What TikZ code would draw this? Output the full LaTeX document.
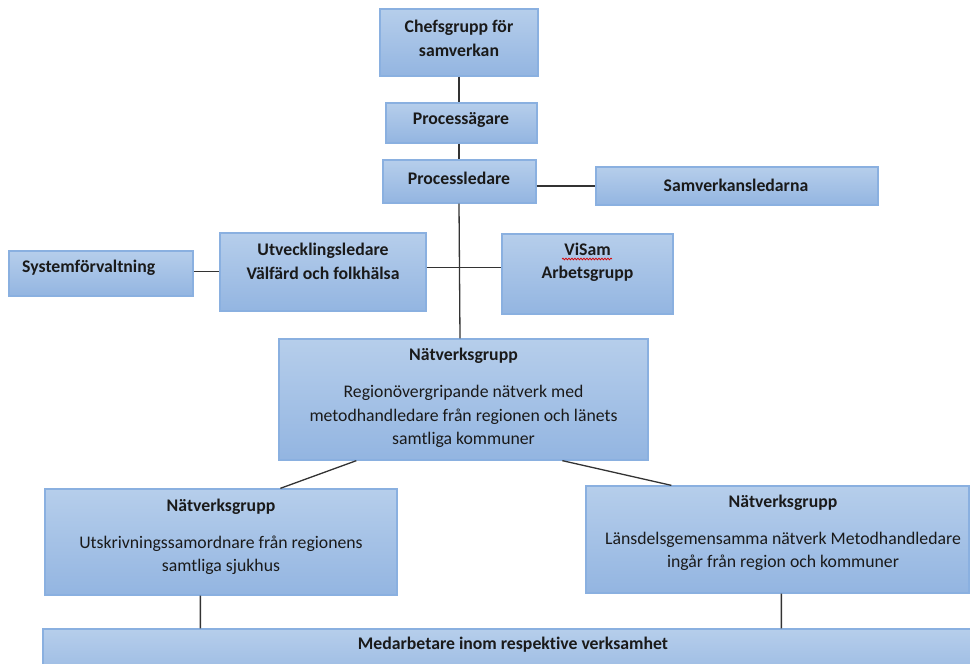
\documentclass[tikz,border=0pt]{standalone}
\usepackage{fontspec}
\setmainfont{Carlito}[Ligatures=NoCommon]
\usetikzlibrary{fit,decorations.pathmorphing}
\definecolor{boxtop}{HTML}{B6CEEB}
\definecolor{boxbot}{HTML}{93B5E1}
\definecolor{boxline}{HTML}{8AB0E0}
\definecolor{connc}{HTML}{333333}
\definecolor{txtc}{HTML}{1A1A1A}
\tikzset{
  box/.style={draw=boxline, line width=1.3bp, top color=boxtop, bottom color=boxbot, rectangle, inner sep=0pt},
  txt/.style={font=\fontsize{17.8}{23.5}\selectfont, align=center, inner sep=0pt, text=txtc},
  conn/.style={draw=connc, line width=1.3bp}
}
\begin{document}
\begin{tikzpicture}[x=1bp,y=-1bp]
\useasboundingbox (0,0) rectangle (970,664);
% boxes
\node[box, fit={(380,9) (538,76)}] (chef) {};
\node[box, fit={(386,103) (537,143)}] (pagare) {};
\node[box, fit={(383,160) (536,203)}] (pledare) {};
\node[box, fit={(596,167) (878,205)}] (samv) {};
\node[box, fit={(9,251) (193,296)}] (sys) {};
\node[box, fit={(220,233) (426,311)}] (utv) {};
\node[box, fit={(502,234) (673,314)}] (visam) {};
\node[box, fit={(279,339) (648,460)}] (natc) {};
\node[box, fit={(45,489) (397,595)}] (natl) {};
\node[box, fit={(586,486) (969,593)}] (natr) {};
\node[box, fit={(43,629) (975,690)}] (med) {};
% texts
\node[txt] (chefT) at (459,38.5) {\textbf{Chefsgrupp för}\\\textbf{samverkan}};
\node[txt] (pagareT) at (461,120) {\textbf{Processägare}};
\node[txt] (pledareT) at (459,178) {\textbf{Processledare}};
\node[txt] (samvT) at (736,185) {\textbf{Samverkansledarna}};
\node[txt, anchor=west] (sysT) at (22,268) {\textbf{Systemförvaltning}};
\node[txt] (utvT) at (323,261.5) {\textbf{Utvecklingsledare}\\\textbf{Välfärd och folkhälsa}};
\node[txt] (visamT) at (587.5,262.5) {\textbf{ViSam}\\\textbf{Arbetsgrupp}};
\node[txt] (natcH) at (463.5,356) {\textbf{Nätverksgrupp}};
\node[txt] (natcT) at (463.5,416.5) {Regionövergripande nätverk med\\metodhandledare från regionen och länets\\samtliga kommuner};
\node[txt] (natlH) at (221,506.5) {\textbf{Nätverksgrupp}};
\node[txt] (natlT) at (221,555) {Utskrivningssamordnare från regionens\\samtliga sjukhus};
\node[txt] (natrH) at (783,503) {\textbf{Nätverksgrupp}};
\node[txt] (natrT) at (783,551.5) {Länsdelsgemensamma nätverk Metodhandledare\\ingår från region och kommuner};
\node[txt] (medT) at (513,645) {\textbf{Medarbetare inom respektive verksamhet}};
% spell-check squiggle under ViSam
\coordinate (sq1) at (562,259);
\coordinate (sq2) at (612,259);
\draw[red!85!black, line width=0.7bp, decorate, decoration={snake, amplitude=0.9bp, segment length=3bp}] (sq1) -- (sq2);
% connectors
\draw[conn] (chef.south) -- (chef.south |- pagare.north);
\draw[conn] (chef.south |- pagare.south) -- (chef.south |- pledare.north);
\draw[conn] (pledare.east |- samv.west) -- (samv.west);
\draw[conn] ([xshift=-0.5bp]pledare.south) -- ([xshift=-3.5bp]natc.north);
\draw[conn] (utv.east |- 0,267.5) -- (visam.west |- 0,267.5);
\draw[conn] (sys.east |- 0,271.5) -- (utv.west |- 0,271.5);
\draw[conn] ([xshift=78bp]natc.south west) -- ([xshift=236bp]natl.north west);
\draw[conn] ([xshift=284bp]natc.south west) -- ([xshift=86bp]natr.north west);
\draw[conn] ([xshift=156bp]natl.south west) -- ([xshift=158bp]med.north west);
\draw[conn] ([xshift=196bp]natr.south west) -- ([xshift=739bp]med.north west);
\end{tikzpicture}
\end{document}
